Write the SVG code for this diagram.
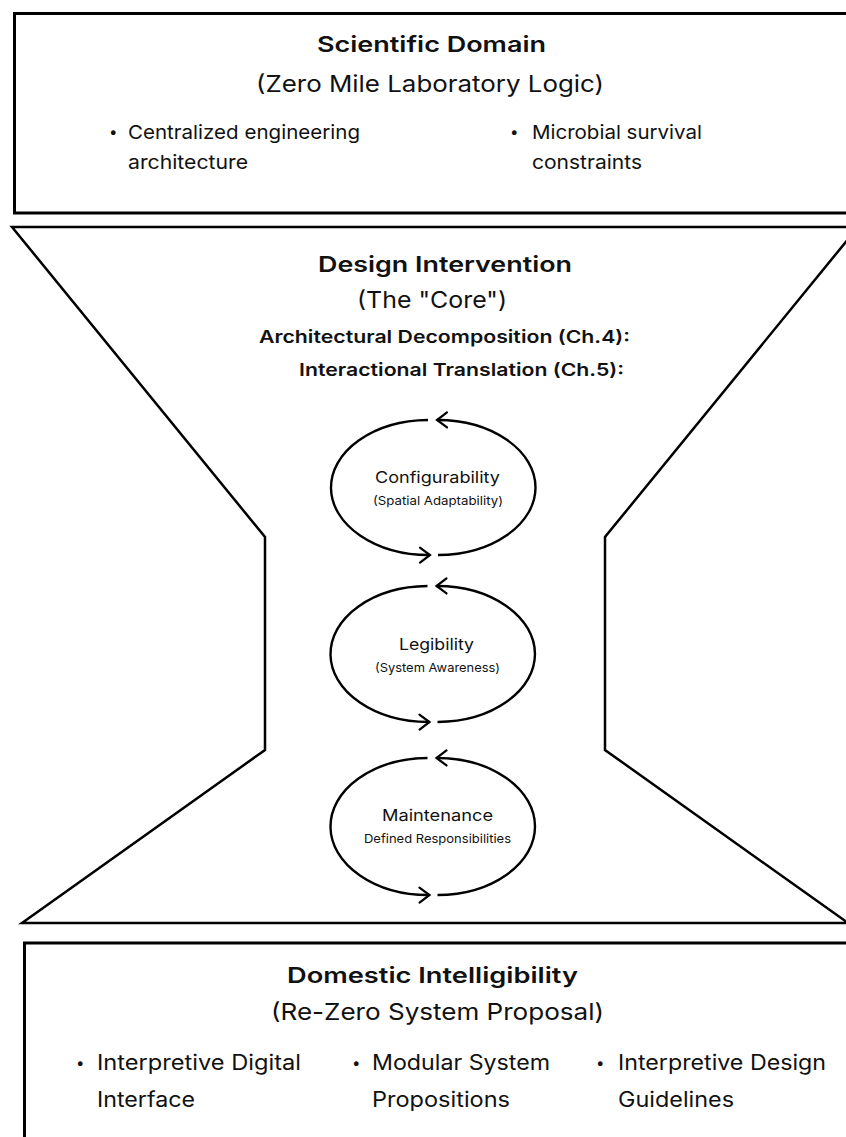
<svg xmlns="http://www.w3.org/2000/svg" width="846" height="1137" viewBox="0 0 846 1137">
  <defs>
    <style>
      .frame { fill: none; stroke: #000; stroke-width: 3; }
      .funnel { fill: none; stroke: #000; stroke-width: 2.5; stroke-linejoin: miter; }
      .loop { fill: none; stroke: #000; stroke-width: 2.4; }
      text { font-family: "Inter", "DejaVu Sans", sans-serif; fill: #111; }
      .h { font-weight: 600; font-size: 21.5px; }
      .sub { font-weight: 400; font-size: 23px; }
      .hsm { font-weight: 600; font-size: 17.5px; }
      .b1 { font-size: 19px; }
      .b3 { font-size: 21px; }
      .dot { font-size: 15px; }
      .et { font-size: 16px; }
      .es { font-size: 12px; }
    </style>
    <marker id="chev" markerUnits="userSpaceOnUse" markerWidth="24" markerHeight="24" refX="0" refY="0" orient="auto" overflow="visible">
      <path d="M -10 -7.5 L 0 0 L -10 7.5" fill="none" stroke="#000" stroke-width="2.2" stroke-linecap="round" stroke-linejoin="miter"/>
    </marker>
  </defs>

  <!-- upper block: source domain -->
  <g id="scientific-domain">
    <rect class="frame" x="14.5" y="13.5" width="900" height="199.5"/>
    <text class="h" x="317" y="52" textLength="229" lengthAdjust="spacingAndGlyphs">Scientific Domain</text>
    <text class="sub" x="256" y="92" textLength="348" lengthAdjust="spacingAndGlyphs">(Zero Mile Laboratory Logic)</text>
    <text class="dot" x="109" y="137">•</text>
    <text class="b1" x="128" y="139" textLength="232" lengthAdjust="spacingAndGlyphs">Centralized engineering</text>
    <text class="b1" x="128" y="169" textLength="120" lengthAdjust="spacingAndGlyphs">architecture</text>
    <text class="dot" x="510" y="137">•</text>
    <text class="b1" x="532" y="139" textLength="170" lengthAdjust="spacingAndGlyphs">Microbial survival</text>
    <text class="b1" x="532" y="169" textLength="110" lengthAdjust="spacingAndGlyphs">constraints</text>
  </g>

  <!-- middle block: funnel-shaped core -->
  <g id="design-intervention">
    <polygon class="funnel" points="12,227 858,227 605,537 605,750 848,923 22,923 265,750 265,537"/>
    <text class="h" x="318" y="272" textLength="254" lengthAdjust="spacingAndGlyphs">Design Intervention</text>
    <text class="sub" x="357" y="308" textLength="150" lengthAdjust="spacingAndGlyphs">(The "Core")</text>
    <text class="hsm" x="259" y="343" textLength="371" lengthAdjust="spacingAndGlyphs">Architectural Decomposition (Ch.4):</text>
    <text class="hsm" x="299" y="376" textLength="325" lengthAdjust="spacingAndGlyphs">Interactional Translation (Ch.5):</text>
  </g>

  <!-- cyclic principles -->
  <g id="configurability" transform="translate(433.5 487.5)">
    <text class="et" x="-58.5" y="-4.5" textLength="125" lengthAdjust="spacingAndGlyphs">Configurability</text>
    <text class="es" x="-60.5" y="17.5" textLength="130" lengthAdjust="spacingAndGlyphs">(Spatial Adaptability)</text>
  </g>
  <g id="legibility" transform="translate(433 654)">
    <text class="et" x="-34" y="-4" textLength="75" lengthAdjust="spacingAndGlyphs">Legibility</text>
    <text class="es" x="-58" y="18" textLength="125" lengthAdjust="spacingAndGlyphs">(System Awareness)</text>
  </g>
  <g id="maintenance" transform="translate(433 826.5)">
    <text class="et" x="-51" y="-5.5" textLength="111" lengthAdjust="spacingAndGlyphs">Maintenance</text>
    <text class="es" x="-69" y="16.5" textLength="147" lengthAdjust="spacingAndGlyphs">Defined Responsibilities</text>
  </g>

  <!-- loop arrows around each principle -->
  <g id="connectors">
    <g transform="translate(433.5 487.5)">
      <path class="loop" d="M 4.5 67.5 A 98 67.5 0 0 0 3.5 -67.5" marker-end="url(#chev)"/>
      <path class="loop" d="M -5.5 -67.5 A 98 67.5 0 0 0 -3.5 67.5" marker-end="url(#chev)"/>
    </g>
    <g transform="translate(433 654)">
      <path class="loop" d="M 4.5 68 A 98 68 0 0 0 3.5 -68" marker-end="url(#chev)"/>
      <path class="loop" d="M -5.5 -68 A 98 68 0 0 0 -3.5 68" marker-end="url(#chev)"/>
    </g>
    <g transform="translate(433 826.5)">
      <path class="loop" d="M 4.5 68.5 A 98 68.5 0 0 0 3.5 -68.5" marker-end="url(#chev)"/>
      <path class="loop" d="M -5.5 -68.5 A 98 68.5 0 0 0 -3.5 68.5" marker-end="url(#chev)"/>
    </g>
  </g>

  <!-- lower block: outcome -->
  <g id="domestic-intelligibility">
    <rect class="frame" x="24.5" y="943" width="900" height="300"/>
    <text class="h" x="287" y="983" textLength="291" lengthAdjust="spacingAndGlyphs">Domestic Intelligibility</text>
    <text class="sub" x="271" y="1020" textLength="333" lengthAdjust="spacingAndGlyphs">(Re-Zero System Proposal)</text>
    <text class="dot" x="76" y="1068">•</text>
    <text class="b3" x="97" y="1070" textLength="204" lengthAdjust="spacingAndGlyphs">Interpretive Digital</text>
    <text class="b3" x="97" y="1107" textLength="98" lengthAdjust="spacingAndGlyphs">Interface</text>
    <text class="dot" x="352" y="1068">•</text>
    <text class="b3" x="372" y="1070" textLength="178" lengthAdjust="spacingAndGlyphs">Modular System</text>
    <text class="b3" x="372" y="1107" textLength="138" lengthAdjust="spacingAndGlyphs">Propositions</text>
    <text class="dot" x="596" y="1068">•</text>
    <text class="b3" x="618" y="1070" textLength="208" lengthAdjust="spacingAndGlyphs">Interpretive Design</text>
    <text class="b3" x="618" y="1107" textLength="116" lengthAdjust="spacingAndGlyphs">Guidelines</text>
  </g>
</svg>
